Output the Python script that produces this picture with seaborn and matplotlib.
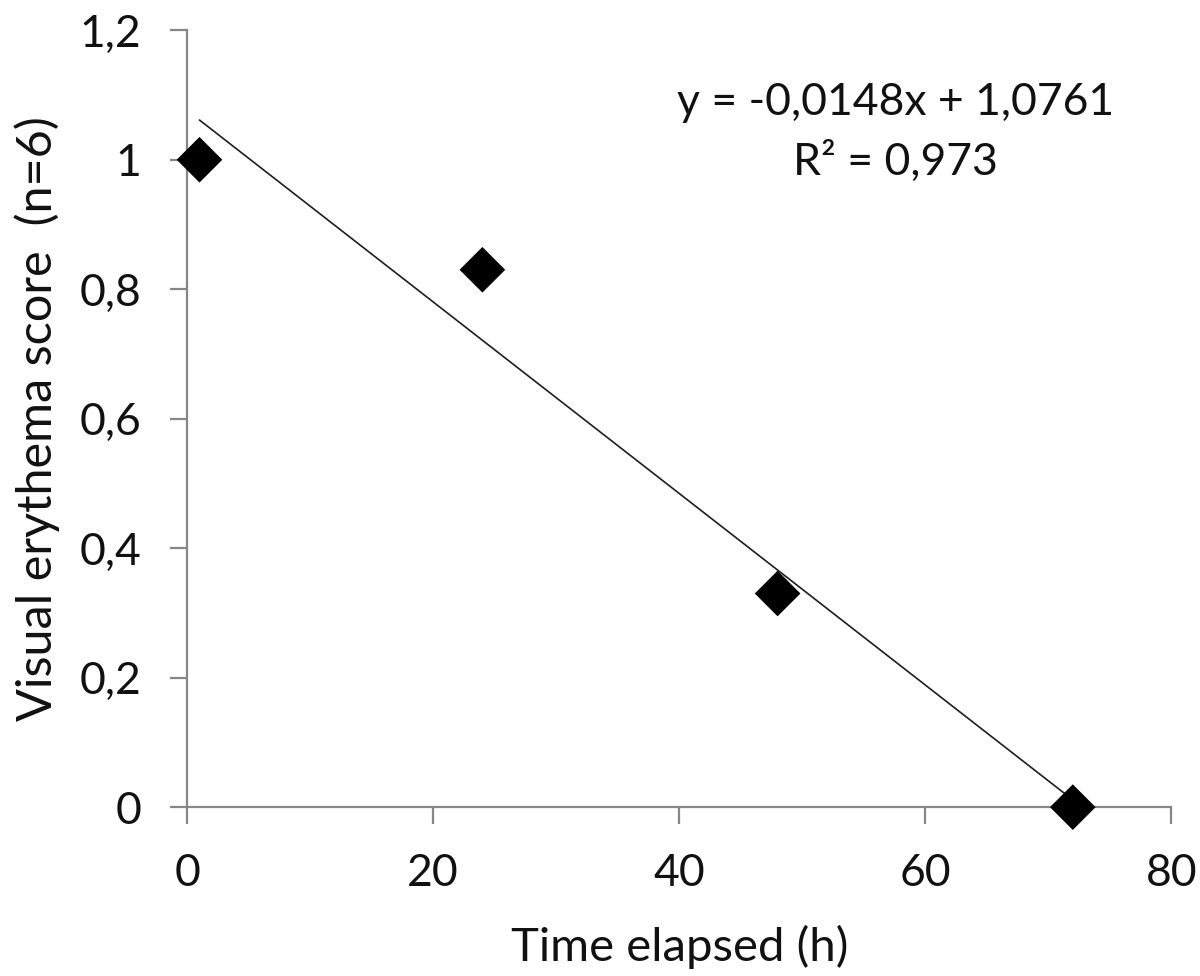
import matplotlib
matplotlib.use("Agg")
import matplotlib.pyplot as plt
import seaborn as sns
import pandas as pd
from matplotlib.ticker import FuncFormatter, MultipleLocator

# data
time_h = [1, 24, 48, 72]
erythema_score = [1.0, 0.83, 0.33, 0.0]
equation_text = "y = -0,0148x + 1,0761"
r2_text = "R² = 0,973"

df = pd.DataFrame({"time": time_h, "score": erythema_score})

sns.set_style("white")
plt.rcParams["font.family"] = ["Lato", "DejaVu Sans"]

fig = plt.figure(figsize=(12, 9.76), dpi=100)
ax = fig.add_axes([0.156, 0.173, 0.820, 0.796])

# scatter + least-squares line (same fit as the printed equation)
sns.regplot(data=df, x="time", y="score", ax=ax, ci=None, truncate=True,
            marker="D", color="black",
            scatter_kws={"s": 540, "edgecolors": "none", "alpha": 1,
                         "zorder": 3, "clip_on": False},
            line_kws={"color": "#1e1e1e", "linewidth": 1.2, "zorder": 2})

ax.set_xlim(0, 80)
ax.set_ylim(0, 1.2)
ax.xaxis.set_major_locator(MultipleLocator(20))
ax.yaxis.set_major_locator(MultipleLocator(0.2))
comma = FuncFormatter(lambda v, p: f"{v:g}".replace(".", ","))
ax.xaxis.set_major_formatter(comma)
ax.yaxis.set_major_formatter(comma)

for side in ["top", "right"]:
    ax.spines[side].set_visible(False)
for side in ["left", "bottom"]:
    ax.spines[side].set_color("#878787")
    ax.spines[side].set_linewidth(1.6)
ax.tick_params(axis="both", direction="out", length=12, width=1.6,
               color="#878787", labelsize=32, labelcolor="#111111", pad=21)
ax.tick_params(axis="x", bottom=True)
ax.tick_params(axis="y", left=True)

ax.set_xlabel("Time elapsed (h)", fontsize=34, color="#111111", labelpad=22)
ax.set_ylabel("Visual erythema score  (n=6)", fontsize=35, color="#111111", labelpad=14)

ax.text(0.72, 0.907, equation_text, transform=ax.transAxes, ha="center",
        va="center", fontsize=32, color="#111111")
ax.text(0.72, 0.830, r2_text, transform=ax.transAxes, ha="center",
        va="center", fontsize=32, color="#111111")

fig.savefig("out.png", dpi=100)
